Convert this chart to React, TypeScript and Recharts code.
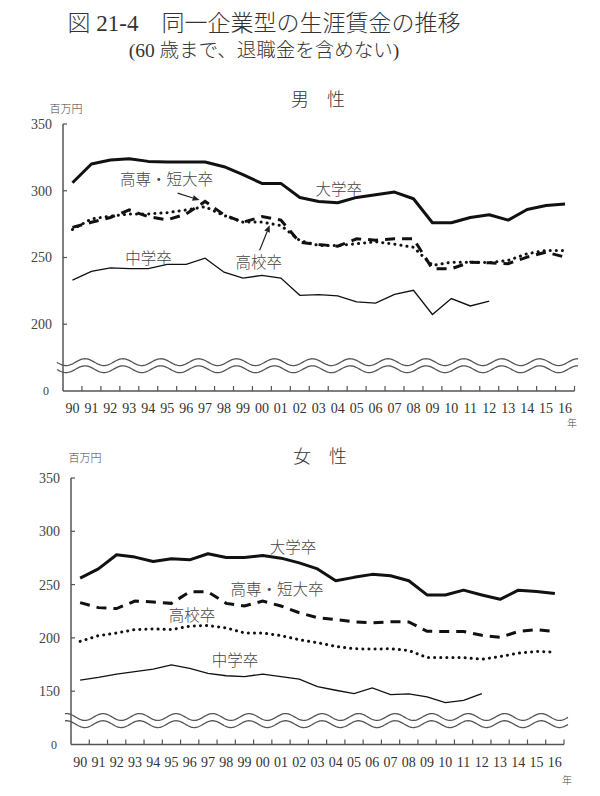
import React from 'react';
import { LineChart, Line, XAxis, YAxis, ReferenceDot, ReferenceLine, ReferenceArea } from 'recharts';

// ---------- data ----------
const years = ['90','91','92','93','94','95','96','97','98','99','00','01','02','03','04','05','06','07','08','09','10','11','12','13','14','15','16'];

// 男性
const maleUniv = [306, 320, 323, 324, 322, 321.5, 321.5, 321.5, 318, 312, 305.5, 305.5, 295, 292, 291, 295, 297, 299, 294, 276, 276, 280, 282, 278, 286, 289, 290];
const maleJunior = [272.6, 276.4, 280, 285.6, 280.6, 278.2, 282.6, 292, 282, 276.4, 280.6, 278, 261.4, 259.7, 258.5, 264, 263, 264, 264, 241.6, 241.6, 246.5, 246, 245.4, 250.3, 254, 250.3];
const maleHigh = [271, 278.9, 281, 282.6, 282.6, 283.6, 285.6, 288, 281.5, 276.5, 276.5, 274, 262.7, 259, 259, 260.3, 261.8, 260, 257.7, 244.1, 246.5, 246.5, 246.2, 247.8, 252.8, 255.3, 255.3];
const maleMiddle = [233, 239.6, 242.3, 241.6, 241.6, 244.8, 244.8, 249.5, 239, 234.6, 236.6, 234.6, 221.7, 222.2, 221.2, 216.7, 215.9, 222.4, 225.4, 207.3, 219.2, 213.7, 217.4];

// 女性
const femaleUniv = [256, 264.7, 278, 275.8, 271.6, 274.2, 273.2, 278.9, 275.4, 275.4, 277.3, 274.8, 270.4, 264.7, 253.6, 256.8, 259.6, 258.3, 253.6, 240.3, 240.3, 244.8, 240.3, 236.2, 244.8, 243.5, 241.6];
const femaleJunior = [233.1, 228.4, 227.5, 234.6, 233.7, 232.4, 243.2, 243.2, 232.4, 229.9, 234.6, 229.9, 223.6, 218.9, 217.3, 215.1, 214.1, 215.1, 215, 206.2, 206, 206, 202.4, 200.5, 206, 207.8, 206];
const femaleHigh = [196.7, 202.1, 204.6, 207.8, 208.4, 207.8, 211, 211.6, 209.4, 204.6, 204.6, 202.1, 198.3, 195.5, 192, 189.8, 189.5, 189.8, 188.2, 181.5, 181.5, 181.5, 180, 182.5, 185.7, 187.3, 186.7];
const femaleMiddle = [160.4, 163, 166.1, 168.3, 170.8, 174.6, 171.5, 166.8, 164.5, 163.6, 166.1, 163.6, 161.3, 154.3, 150.9, 147.8, 153.1, 146.8, 147.4, 144.6, 139.3, 141.4, 147.8];

const maleTicks = [150, 200, 250, 300, 350];
const femaleTicks = [100, 150, 200, 250, 300, 350];

const seriesNames = { univ: '大学卒', junior: '高専・短大卒', high: '高校卒', middle: '中学卒' };

// ---------- styling ----------
const SERIF = "'Liberation Serif','DejaVu Serif',serif";
const CJK = "'Liberation Serif','Noto Sans CJK JP',sans-serif";
const AXIS = '#555';
const LINE = '#111';
const TEXT = '#444';

function buildRows(u: number[], j: number[], h: number[], m: number[]) {
  return years.map((label, i) => ({
    i,
    label,
    univ: u[i] ?? null,
    junior: j[i] ?? null,
    high: h[i] ?? null,
    middle: m[i] ?? null,
  }));
}

const maleRows = buildRows(maleUniv, maleJunior, maleHigh, maleMiddle);
const femaleRows = buildRows(femaleUniv, femaleJunior, femaleHigh, femaleMiddle);
const idx = years.map((_, i) => i);

const XTick = (props: any) => {
  const { x, y, payload, width } = props;
  const half = (typeof width === 'number' ? width : 500) / years.length / 2;
  return (
    <g>
      <line x1={x + half} x2={x + half} y1={y} y2={y - 5} stroke={AXIS} strokeWidth={1.2} />
      <text x={x} y={y + 22} textAnchor="middle" fontFamily={SERIF} fontSize={14} fill="#333">
        {years[payload.value]}
      </text>
    </g>
  );
};

const makeYTick = (base: number) => (props: any) => {
  const { x, y, payload } = props;
  const isBase = payload.value === base;
  return (
    <g>
      {!isBase && <line x1={x} x2={x + 4} y1={y} y2={y} stroke={AXIS} strokeWidth={1.2} />}
      <text x={x - (isBase ? 14 : 11)} y={y} dy="0.35em" textAnchor="end" fontFamily={SERIF} fontSize={isBase ? 12 : 14} fill="#444">
        {isBase ? '0' : payload.value}
      </text>
    </g>
  );
};

const labelShape = (text: string) => (p: any) => (
  <text x={p.cx} y={p.cy} dy="0.35em" textAnchor="middle" fontFamily={CJK} fontWeight={300} fontSize={15.5} fill={TEXT}>
    {text}
  </text>
);

const ArrowShape = (p: any) => {
  const { x1, y1, x2, y2 } = p;
  const ang = Math.atan2(y2 - y1, x2 - x1);
  const L = 7, W = 3;
  const bx = x2 - L * Math.cos(ang), by = y2 - L * Math.sin(ang);
  const px = -Math.sin(ang) * W, py = Math.cos(ang) * W;
  return (
    <g>
      <line x1={x1} y1={y1} x2={bx} y2={by} stroke="#222" strokeWidth={1.2} />
      <polygon points={`${x2},${y2} ${bx + px},${by + py} ${bx - px},${by - py}`} fill="#222" />
    </g>
  );
};

const makeWaves = (peakOffset: number) => (p: any) => {
  const { x, y, width, height } = p;
  const period = (width / years.length) * 2;
  const A = 3.4;
  const x0 = x - 6, x1 = x + width + 4;
  const peakX = x + peakOffset;
  const up: string[] = [];
  const lo: string[] = [];
  for (let xx = x0; xx <= x1; xx += 1) {
    const d = Math.cos((2 * Math.PI * (xx - peakX)) / period);
    up.push(`${xx.toFixed(1)},${(y - A * d).toFixed(2)}`);
    lo.push(`${xx.toFixed(1)},${(y + height - A * d).toFixed(2)}`);
  }
  const fillPts = up.concat(lo.slice().reverse()).join(' ');
  return (
    <g>
      <polygon points={fillPts} fill="#fff" stroke="none" />
      <polyline points={up.join(' ')} fill="none" stroke={AXIS} strokeWidth={1.3} />
      <polyline points={lo.join(' ')} fill="none" stroke={AXIS} strokeWidth={1.3} />
    </g>
  );
};

const seriesLines = [
  <Line key="univ" dataKey="univ" name={seriesNames.univ} stroke={LINE} strokeWidth={3} dot={false} isAnimationActive={false} strokeLinejoin="round" />,
  <Line key="junior" dataKey="junior" name={seriesNames.junior} stroke={LINE} strokeWidth={3} strokeDasharray="10 7" dot={false} isAnimationActive={false} />,
  <Line key="high" dataKey="high" name={seriesNames.high} stroke={LINE} strokeWidth={3} strokeDasharray="0.1 6" strokeLinecap="round" dot={false} isAnimationActive={false} />,
  <Line key="middle" dataKey="middle" name={seriesNames.middle} stroke={LINE} strokeWidth={1.3} dot={false} isAnimationActive={false} />,
];

const Abs = ({ left, top, width, size, children, family, color, align, weight }: any) => (
  <div style={{ position: 'absolute', left, top, width, fontSize: size, lineHeight: `${size}px`, fontFamily: family || CJK, fontWeight: weight || 300, color: color || '#333', textAlign: align || 'center', whiteSpace: 'nowrap' }}>
    {children}
  </div>
);

export default function App() {
  return (
    <div style={{ position: 'absolute', left: 0, top: 0, width: 600, height: 796, background: '#fff', overflow: 'hidden' }}>
      <Abs left={0} top={12} width={528} size={23}>図 21-4　同一企業型の生涯賃金の推移</Abs>
      <Abs left={0} top={41} width={528} size={19.5}>(60 歳まで、退職金を含めない)</Abs>

      {/* 男性 */}
      <div style={{ position: 'absolute', left: 0, top: 0 }}>
        <LineChart width={600} height={440} data={maleRows} margin={{ top: 124, right: 25.5, bottom: 19, left: 23 }}>
          <XAxis dataKey="i" type="number" domain={[-0.5, 26.5]} ticks={idx} interval={0} height={30}
            axisLine={{ stroke: AXIS, strokeWidth: 1.5 }} tickLine={false} tickSize={0} tickMargin={0} tick={<XTick />} />
          <YAxis type="number" domain={[150, 350]} ticks={maleTicks} interval={0} width={40}
            axisLine={{ stroke: AXIS, strokeWidth: 1.5 }} tickLine={false} tickSize={0} tickMargin={0} tick={makeYTick(150)} />
          {seriesLines}
          <ReferenceArea y1={166.3} y2={171.6} shape={makeWaves(22)} ifOverflow="visible" />
          <ReferenceDot x={14.06} y={301.2} r={0} shape={labelShape(seriesNames.univ)} ifOverflow="visible" />
          <ReferenceDot x={4.97} y={308} r={0} shape={labelShape(seriesNames.junior)} ifOverflow="visible" />
          <ReferenceDot x={4.02} y={249.4} r={0} shape={labelShape(seriesNames.middle)} ifOverflow="visible" />
          <ReferenceDot x={9.83} y={246.4} r={0} shape={labelShape(seriesNames.high)} ifOverflow="visible" />
          <ReferenceLine segment={[{ x: 5.55, y: 298.2 }, { x: 6.71, y: 293 }]} shape={ArrowShape} ifOverflow="visible" />
          <ReferenceLine segment={[{ x: 9.88, y: 255.4 }, { x: 10.41, y: 274.2 }]} shape={ArrowShape} ifOverflow="visible" />
        </LineChart>
      </div>
      <Abs left={268} top={91} width={100} size={18}>男　性</Abs>
      <Abs left={44} top={104} width={44} size={11} color={TEXT}>百万円</Abs>
      <Abs left={562} top={419} width={20} size={10} color={TEXT}>年</Abs>

      {/* 女性 */}
      <div style={{ position: 'absolute', left: 0, top: 440 }}>
        <LineChart width={600} height={356} data={femaleRows} margin={{ top: 38, right: 36, bottom: 21.5, left: 31 }}>
          <XAxis dataKey="i" type="number" domain={[-0.5, 26.5]} ticks={idx} interval={0} height={30}
            axisLine={{ stroke: AXIS, strokeWidth: 1.5 }} tickLine={false} tickSize={0} tickMargin={0} tick={<XTick />} />
          <YAxis type="number" domain={[100, 350]} ticks={femaleTicks} interval={0} width={40}
            axisLine={{ stroke: AXIS, strokeWidth: 1.5 }} tickLine={false} tickSize={0} tickMargin={0} tick={makeYTick(100)} />
          {seriesLines}
          <ReferenceArea y1={119.1} y2={125.8} shape={makeWaves(32)} ifOverflow="visible" />
          <ReferenceDot x={11.66} y={284.3} r={0} shape={labelShape(seriesNames.univ)} ifOverflow="visible" />
          <ReferenceDot x={10.78} y={245} r={0} shape={labelShape(seriesNames.junior)} ifOverflow="visible" />
          <ReferenceDot x={6.13} y={220.6} r={0} shape={labelShape(seriesNames.high)} ifOverflow="visible" />
          <ReferenceDot x={8.48} y={178.3} r={0} shape={labelShape(seriesNames.middle)} ifOverflow="visible" />
        </LineChart>
      </div>
      <Abs left={270} top={448} width={100} size={18}>女　性</Abs>
      <Abs left={63} top={453} width={44} size={11} color={TEXT}>百万円</Abs>
      <Abs left={557} top={776} width={20} size={10} color={TEXT}>年</Abs>
    </div>
  );
}
